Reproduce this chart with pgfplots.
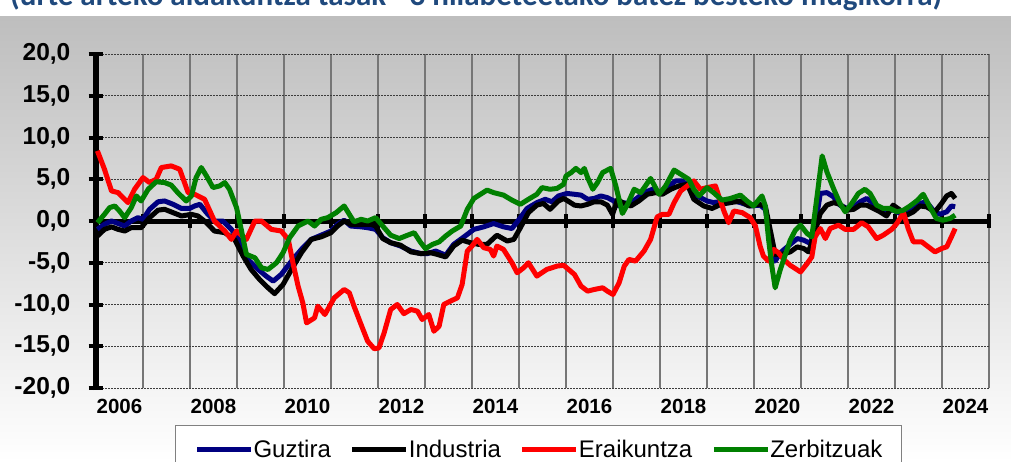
\documentclass[border=0pt]{standalone}
\usepackage{fontspec}
\setmainfont{Liberation Sans}
\newfontfamily\titlefont{Carlito}
\usepackage{pgfplots}
\pgfplotsset{compat=1.18}
\definecolor{cguz}{RGB}{0,0,128}
\definecolor{cind}{RGB}{0,0,0}
\definecolor{cera}{RGB}{255,0,0}
\definecolor{czer}{RGB}{0,128,0}
\definecolor{ctitle}{RGB}{31,73,125}
\definecolor{vgrid}{RGB}{118,118,118}
\definecolor{hgrid}{RGB}{60,60,60}
\definecolor{lborder}{RGB}{128,128,128}
\definecolor{bgtop}{RGB}{190,190,190}
\begin{document}
\begin{tikzpicture}
\useasboundingbox (0,0) rectangle (1011bp,462bp);
\clip (0,0) rectangle (1011bp,462bp);
\fill[white] (0,0) rectangle (1011bp,462bp);
\shade[top color=bgtop, bottom color=white] (0,0) rectangle (1011bp,445bp);
\node[anchor=base west, inner sep=0pt, text=ctitle, font=\titlefont\bfseries\fontsize{31bp}{36bp}\selectfont] at (10bp,456bp) {(urte arteko aldakuntza tasak - 3 hilabeteetako batez besteko mugikorra)};
\begin{axis}[
  at={(96bp,74bp)}, anchor=south west,
  scale only axis, width=893bp, height=334bp,
  xmin=2006, xmax=2025, ymin=-20, ymax=20,
  clip=false,
  axis line style={draw=none},
  tick pos=left,
  tick align=center,
  xtick={2006.5,2008.5,2010.5,2012.5,2014.5,2016.5,2018.5,2020.5,2022.5,2024.5},
  xticklabels={2006,2008,2010,2012,2014,2016,2018,2020,2022,2024},
  minor xtick={2007,2008,...,2025},
  xminorgrids,
  minor grid style={vgrid, line width=1.5bp},
  xtick style={draw=none},
  ytick={-20,-15,...,20},
  yticklabels={{-20,0},{-15,0},{-10,0},{-5,0},{0,0},{5,0},{10,0},{15,0},{20,0}},
  ymajorgrids,
  major grid style={hgrid, line width=1bp, dash pattern=on 1.5bp off 1.5bp},
  ytick style={black, line width=4bp},
  major tick length=15bp,
  minor tick length=0pt,
  yticklabel style={font=\bfseries\fontsize{24.5bp}{28bp}\selectfont, anchor=east, inner sep=0pt, xshift=-18bp},
  xticklabel style={font=\bfseries\fontsize{20.5bp}{24bp}\selectfont, anchor=north, inner sep=0pt, yshift=-3.5bp},
  legend style={at={(axis description cs:0.0885,-0.1108)}, anchor=north west, draw=lborder, line width=1bp, fill=white, font=\fontsize{24bp}{28bp}\selectfont, legend columns=4, inner xsep=19bp, inner ysep=13bp, nodes={inner xsep=0pt, inner ysep=2bp}, /tikz/every odd column/.append style={column sep=0bp}, /tikz/every even column/.append style={column sep=19bp}},
  legend image code/.code={\draw[#1] (0bp,0bp) -- (54bp,0bp);},
]
\draw[black, line width=5bp] (axis cs:2006,0) -- (axis cs:2025,0);
\pgfplotsinvokeforeach{2007,...,2025}{\draw[black, line width=4.5bp] (axis cs:#1,-0.78) -- (axis cs:#1,0.78);}
\draw[black, line width=5.5bp] (axis cs:2006,-20.25) -- (axis cs:2006,20.25);
\addplot[cguz, line width=5bp, line join=round] coordinates {(2006.03,-1.0)(2006.18,-0.4)(2006.33,0)(2006.47,-0.3)(2006.61,-0.6)(2006.75,0)(2006.89,0.4)(2007.0,0.2)(2007.14,1.4)(2007.32,2.3)(2007.46,2.4)(2007.64,2.0)(2007.82,1.5)(2007.99,1.5)(2008.10,1.8)(2008.21,2.0)(2008.35,1.0)(2008.52,0)(2008.70,0)(2008.88,-1.0)(2009.06,-2.4)(2009.23,-4.6)(2009.45,-5.8)(2009.62,-6.6)(2009.77,-7.2)(2009.94,-6.4)(2010.16,-4.8)(2010.37,-3.4)(2010.58,-2.2)(2010.79,-1.7)(2011.0,-1.2)(2011.14,-0.4)(2011.28,0.1)(2011.42,-0.6)(2011.64,-0.7)(2011.78,-0.8)(2011.95,-1.0)(2012.10,-2.0)(2012.27,-2.6)(2012.48,-3.0)(2012.70,-3.6)(2012.91,-3.9)(2013.05,-3.9)(2013.23,-3.6)(2013.44,-4.1)(2013.61,-2.8)(2013.83,-1.9)(2014.04,-1.0)(2014.25,-0.7)(2014.46,-0.3)(2014.67,-0.7)(2014.85,-0.9)(2015.03,0.4)(2015.17,1.5)(2015.38,2.2)(2015.56,2.6)(2015.70,2.3)(2015.84,3.0)(2016.02,3.3)(2016.18,3.2)(2016.32,3.1)(2016.46,2.6)(2016.60,2.7)(2016.74,3.0)(2016.88,2.8)(2017.02,2.4)(2017.13,1.8)(2017.20,2.2)(2017.34,2.1)(2017.48,2.6)(2017.66,3.4)(2017.84,3.8)(2018.01,3.4)(2018.16,4.0)(2018.33,4.8)(2018.47,4.8)(2018.61,4.2)(2018.79,3.0)(2019.00,2.4)(2019.14,2.2)(2019.36,2.4)(2019.57,2.4)(2019.71,2.2)(2019.92,1.8)(2020.13,1.9)(2020.24,1.4)(2020.35,-1.8)(2020.45,-4.8)(2020.56,-3.8)(2020.77,-2.8)(2020.92,-2.1)(2021.06,-2.3)(2021.20,-2.7)(2021.30,-0.7)(2021.41,3.3)(2021.55,3.4)(2021.69,2.9)(2021.83,1.9)(2021.98,1.5)(2022.12,1.7)(2022.26,2.3)(2022.40,2.7)(2022.54,2.1)(2022.68,1.5)(2022.82,1.3)(2022.96,1.3)(2023.11,0.9)(2023.25,1.3)(2023.39,1.7)(2023.53,2.1)(2023.67,2.3)(2023.81,1.3)(2023.95,0.8)(2024.10,1.1)(2024.20,1.8)(2024.28,1.7)};
\addlegendentry{Guztira}
\addplot[cind, line width=5bp, line join=round] coordinates {(2006.03,-1.8)(2006.18,-1.0)(2006.33,-0.7)(2006.47,-1.0)(2006.61,-1.2)(2006.75,-0.8)(2006.96,-0.8)(2007.14,0.4)(2007.32,1.3)(2007.46,1.4)(2007.64,1.0)(2007.82,0.6)(2008.03,0.8)(2008.17,0.6)(2008.35,-0.2)(2008.52,-1.2)(2008.74,-1.4)(2008.95,-2.2)(2009.13,-4.2)(2009.30,-5.8)(2009.48,-7.0)(2009.66,-8.0)(2009.80,-8.7)(2009.98,-7.6)(2010.16,-5.8)(2010.37,-3.8)(2010.58,-2.2)(2010.79,-1.9)(2011.0,-1.4)(2011.14,-0.6)(2011.28,0)(2011.42,-0.4)(2011.64,-0.4)(2011.85,-0.4)(2011.95,-0.6)(2012.10,-2.1)(2012.27,-2.6)(2012.48,-2.9)(2012.70,-3.7)(2012.91,-3.9)(2013.12,-3.8)(2013.26,-4.0)(2013.44,-4.3)(2013.61,-3.0)(2013.79,-2.3)(2013.97,-2.6)(2014.14,-2.8)(2014.32,-2.8)(2014.53,-1.7)(2014.75,-2.4)(2014.89,-2.2)(2015.03,-0.8)(2015.20,1.0)(2015.38,1.9)(2015.52,2.1)(2015.66,1.4)(2015.84,2.4)(2015.95,2.7)(2016.04,2.4)(2016.18,1.9)(2016.32,1.8)(2016.46,2.0)(2016.60,2.3)(2016.74,2.3)(2016.88,1.9)(2016.99,0.8)(2017.10,2.6)(2017.20,2.2)(2017.38,1.8)(2017.55,2.4)(2017.73,3.2)(2017.91,3.4)(2018.05,3.2)(2018.23,3.8)(2018.40,4.2)(2018.58,4.4)(2018.72,2.6)(2018.93,1.8)(2019.11,1.5)(2019.29,2.0)(2019.50,2.2)(2019.71,2.4)(2019.89,1.8)(2020.10,2.0)(2020.24,1.8)(2020.35,-1.2)(2020.45,-4.0)(2020.59,-4.0)(2020.77,-3.7)(2020.92,-3.1)(2021.06,-3.3)(2021.16,-3.7)(2021.27,-1.9)(2021.41,0.9)(2021.55,1.9)(2021.69,2.2)(2021.83,2.0)(2021.98,1.3)(2022.12,1.4)(2022.26,1.9)(2022.40,1.9)(2022.54,1.5)(2022.68,1.1)(2022.82,0.6)(2022.96,1.9)(2023.11,1.3)(2023.25,0.7)(2023.39,1.1)(2023.53,1.8)(2023.67,1.7)(2023.85,1.1)(2023.99,2.1)(2024.10,3.0)(2024.20,3.3)(2024.28,2.7)};
\addlegendentry{Industria}
\addplot[cera, line width=5bp, line join=round] coordinates {(2006.03,8.4)(2006.18,6.2)(2006.33,3.6)(2006.47,3.4)(2006.68,2.2)(2006.82,3.8)(2007.0,5.2)(2007.14,4.6)(2007.28,5.0)(2007.39,6.4)(2007.60,6.6)(2007.78,6.2)(2007.96,3.4)(2008.10,3.2)(2008.31,2.6)(2008.52,0)(2008.74,-1.2)(2008.88,-2.2)(2008.99,-1.2)(2009.20,-2.2)(2009.38,0)(2009.52,0)(2009.73,-1.0)(2009.94,-1.2)(2010.09,-2.2)(2010.19,-5.0)(2010.30,-7.8)(2010.40,-9.8)(2010.48,-12.2)(2010.65,-11.6)(2010.72,-10.2)(2010.87,-11.2)(2010.93,-10.6)(2011.07,-9.2)(2011.28,-8.2)(2011.39,-8.6)(2011.49,-10.2)(2011.64,-12.4)(2011.78,-14.4)(2011.92,-15.3)(2012.02,-15.2)(2012.13,-13.4)(2012.27,-10.6)(2012.41,-10.0)(2012.55,-11.1)(2012.70,-10.6)(2012.84,-10.8)(2012.94,-11.8)(2013.08,-11.2)(2013.19,-13.2)(2013.30,-12.6)(2013.40,-10.0)(2013.54,-9.6)(2013.69,-9.2)(2013.79,-7.6)(2013.90,-3.6)(2014.00,-3.0)(2014.11,-2.2)(2014.25,-3.2)(2014.39,-3.4)(2014.46,-4.2)(2014.53,-3.0)(2014.67,-3.4)(2014.85,-5.0)(2014.96,-6.2)(2015.10,-5.6)(2015.20,-5.0)(2015.38,-6.6)(2015.59,-5.8)(2015.81,-5.4)(2015.95,-5.3)(2016.18,-6.4)(2016.32,-7.8)(2016.46,-8.4)(2016.60,-8.2)(2016.78,-8.0)(2016.88,-8.4)(2017.0,-8.8)(2017.13,-7.4)(2017.24,-5.4)(2017.34,-4.6)(2017.48,-4.8)(2017.66,-3.6)(2017.80,-2.2)(2017.94,0.5)(2018.05,0.8)(2018.19,0.8)(2018.30,2.2)(2018.44,3.6)(2018.58,4.2)(2018.72,4.8)(2018.86,3.8)(2019.00,4.0)(2019.18,4.2)(2019.25,3.0)(2019.36,1.2)(2019.46,-0.2)(2019.57,1.2)(2019.75,1.0)(2019.92,0.4)(2020.03,-0.6)(2020.13,-3.0)(2020.20,-4.2)(2020.31,-4.8)(2020.42,-3.4)(2020.52,-3.8)(2020.63,-4.6)(2020.77,-5.3)(2020.88,-5.7)(2020.99,-6.1)(2021.13,-5.1)(2021.23,-4.3)(2021.30,-1.9)(2021.41,-0.9)(2021.52,-2.1)(2021.62,-0.9)(2021.80,-0.5)(2021.94,-1.0)(2022.12,-1.0)(2022.29,-0.2)(2022.43,-0.7)(2022.61,-2.1)(2022.75,-1.7)(2022.93,-1.0)(2023.04,-0.3)(2023.18,1.0)(2023.28,-0.9)(2023.39,-2.5)(2023.57,-2.5)(2023.71,-3.1)(2023.85,-3.7)(2023.99,-3.3)(2024.10,-3.1)(2024.20,-1.9)(2024.28,-0.9)};
\addlegendentry{Eraikuntza}
\addplot[czer, line width=5bp, line join=round] coordinates {(2006.03,-0.2)(2006.18,0.8)(2006.29,1.6)(2006.40,1.8)(2006.50,1.2)(2006.61,0.4)(2006.75,1.6)(2006.86,3.0)(2006.96,2.4)(2007.11,3.8)(2007.28,4.7)(2007.46,4.6)(2007.60,4.3)(2007.74,3.4)(2007.92,2.4)(2008.03,3.0)(2008.13,5.2)(2008.24,6.4)(2008.35,5.4)(2008.49,4.0)(2008.63,4.2)(2008.74,4.6)(2008.84,3.8)(2008.99,1.6)(2009.09,-1.0)(2009.20,-4.0)(2009.38,-4.4)(2009.52,-5.6)(2009.66,-5.8)(2009.84,-5.0)(2009.98,-3.8)(2010.12,-2.0)(2010.30,-0.6)(2010.51,0)(2010.65,-0.6)(2010.79,0.2)(2010.93,0.4)(2011.11,1.0)(2011.28,1.8)(2011.39,0.8)(2011.49,-0.1)(2011.64,0.2)(2011.78,0)(2011.95,0.4)(2012.10,-0.6)(2012.27,-1.7)(2012.45,-2.1)(2012.63,-1.7)(2012.77,-1.4)(2012.91,-2.6)(2013.01,-3.3)(2013.16,-2.8)(2013.30,-2.5)(2013.44,-1.8)(2013.58,-1.2)(2013.76,-0.6)(2013.90,1.4)(2014.04,2.7)(2014.18,3.2)(2014.32,3.7)(2014.46,3.4)(2014.67,3.1)(2014.85,2.5)(2015.03,2.0)(2015.20,2.6)(2015.38,3.2)(2015.49,4.0)(2015.66,3.8)(2015.81,3.9)(2015.95,4.4)(2016.0,5.4)(2016.11,5.8)(2016.21,6.3)(2016.32,5.8)(2016.39,6.3)(2016.46,5.2)(2016.57,3.8)(2016.67,4.6)(2016.78,5.8)(2016.95,6.3)(2017.06,4.2)(2017.20,0.9)(2017.31,2.0)(2017.45,3.8)(2017.59,3.4)(2017.80,5.1)(2017.98,3.2)(2018.12,4.2)(2018.30,6.1)(2018.47,5.5)(2018.61,5.0)(2018.72,3.8)(2018.83,3.0)(2019.00,4.0)(2019.14,3.4)(2019.32,2.5)(2019.50,2.7)(2019.71,3.1)(2019.85,2.4)(2019.99,1.8)(2020.17,3.0)(2020.24,1.8)(2020.31,-2.2)(2020.38,-5.4)(2020.45,-8.0)(2020.56,-5.8)(2020.77,-2.3)(2020.88,-1.1)(2020.99,-0.5)(2021.13,-1.5)(2021.23,-1.9)(2021.34,2.9)(2021.45,7.8)(2021.55,5.9)(2021.69,3.9)(2021.83,2.1)(2021.94,1.1)(2022.08,2.1)(2022.22,3.3)(2022.36,3.8)(2022.47,3.3)(2022.61,1.9)(2022.75,1.5)(2022.89,1.5)(2023.04,1.1)(2023.18,1.3)(2023.32,1.8)(2023.46,2.4)(2023.60,3.2)(2023.74,1.7)(2023.88,0.3)(2024.02,0.1)(2024.17,0.3)(2024.28,0.7)};
\addlegendentry{Zerbitzuak}
\end{axis}
\end{tikzpicture}
\end{document}
